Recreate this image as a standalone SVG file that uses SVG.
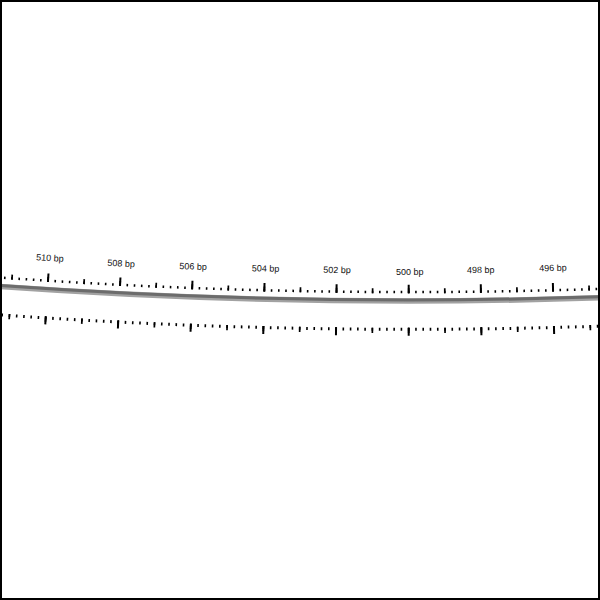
<svg xmlns="http://www.w3.org/2000/svg" width="600" height="600" viewBox="0 0 600 600">
  <style>
    .tick { fill: none; stroke: #000; }
    .lbl { font-family: "Liberation Sans", Arial, sans-serif; font-size: 9px; fill: #111; text-anchor: middle; }
  </style>
  <rect x="0" y="0" width="600" height="600" fill="#fff"/>
  <g id="backbone">
    <path d="M614.69,297.311 A5753,5753 0 0 1 -13.84,285.461" fill="none" stroke="#a2a2a2" stroke-width="5.5"/>
    <path d="M614.65,296.312 A5752,5752 0 0 1 -13.767,284.464" fill="none" stroke="#6c6c6c" stroke-width="3"/>
  </g>
  <g id="inner-ticks">
    <path class="tick" d="M614.372,288.367 A5744.05,5744.05 0 0 1 -13.183,276.535" stroke-width="2.5" stroke-dasharray="1.6 5.6182" stroke-dashoffset="4.4091"/>
    <path class="tick" d="M614.327,287.118 A5742.8,5742.8 0 0 1 -13.091,275.289" stroke-width="5" stroke-dasharray="1.7 34.3831" stroke-dashoffset="11.6749"/>
    <path class="tick" d="M614.264,285.369 A5741.05,5741.05 0 0 1 -12.963,273.543" stroke-width="8.5" stroke-dasharray="2 70.1442" stroke-dashoffset="11.8216"/>
  </g>
  <g id="outer-ticks">
    <path class="tick" d="M615.705,325.593 A5781.3,5781.3 0 0 1 -15.916,313.685" stroke-width="3" stroke-dasharray="1.6 5.665" stroke-dashoffset="4.4325"/>
    <path class="tick" d="M615.746,326.742 A5782.45,5782.45 0 0 1 -16.001,314.832" stroke-width="5.3" stroke-dasharray="1.7 34.6322" stroke-dashoffset="11.7497"/>
    <path class="tick" d="M615.795,328.091 A5783.8,5783.8 0 0 1 -16.1,316.178" stroke-width="8" stroke-dasharray="2 70.6814" stroke-dashoffset="11.9022"/>
  </g>
  <g id="labels">
    <text class="lbl" transform="translate(49.7,261) rotate(3.6)">510 bp</text>
    <text class="lbl" transform="translate(121,266.5) rotate(2.88)">508 bp</text>
    <text class="lbl" transform="translate(193,269.5) rotate(2.16)">506 bp</text>
    <text class="lbl" transform="translate(265.5,271.5) rotate(1.44)">504 bp</text>
    <text class="lbl" transform="translate(337,273) rotate(0.72)">502 bp</text>
    <text class="lbl" transform="translate(409.7,274.5)">500 bp</text>
    <text class="lbl" transform="translate(480.8,273) rotate(-0.72)">498 bp</text>
    <text class="lbl" transform="translate(553,271) rotate(-1.44)">496 bp</text>
  </g>
  <rect x="1" y="1" width="598" height="598" fill="none" stroke="#000" stroke-width="2"/>
</svg>
